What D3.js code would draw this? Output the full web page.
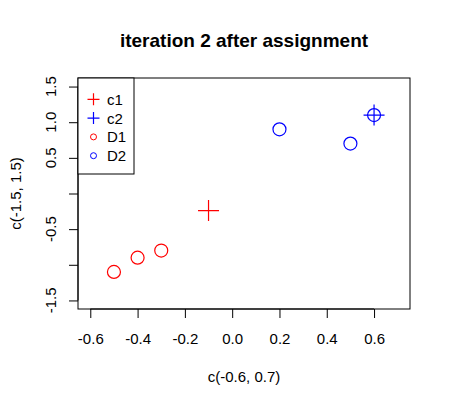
<!DOCTYPE html>
<html>
<head>
<meta charset="utf-8">
<script src="https://cdn.jsdelivr.net/npm/d3@7"></script>
<style>
  body { margin: 0; background: #fff; }
  text { font-family: "Liberation Sans", Arial, sans-serif; }
</style>
</head>
<body>
<svg id="chart" width="451" height="407"></svg>
<script>
// cluster data
const d1x = [-0.5, -0.4, -0.3];
const d1y = [-1.1, -0.9, -0.8];
const d2x = [0.2, 0.5, 0.6];
const d2y = [0.9, 0.7, 1.1];
const c1 = [-0.1, -0.24];
const c2 = [0.6, 1.1];
const xTicks = [-0.6, -0.4, -0.2, 0.0, 0.2, 0.4, 0.6];
const yTicks = [-1.5, -1.0, -0.5, 0.0, 0.5, 1.0, 1.5];
const yLabelTicks = [-1.5, -0.5, 0.5, 1.0, 1.5]; // R drops the overlapping ones
const legendNames = ["c1", "c2", "D1", "D2"];

const svg = d3.select("#chart");
const pLeft = 78, pRight = 410, pTop = 78, pBottom = 309;
const fmt = d => d.toFixed(1); // plain hyphen minus like R

// R pads the range by 4% on each side
const x = d3.scaleLinear().domain([-0.652, 0.752]).range([pLeft, pRight]);
const y = d3.scaleLinear().domain([-1.62, 1.62]).range([pBottom, pTop]);

const xAxis = svg.append("g")
    .attr("transform", `translate(0,${pBottom})`)
    .call(d3.axisBottom(x).tickValues(xTicks).tickSize(9).tickPadding(15)
        .tickFormat(fmt));
xAxis.select(".domain").attr("d", `M${x(-0.6)},0H${x(0.6)}`);
xAxis.selectAll("text").attr("font-size", 15).attr("fill", "#000")
    .style("font-family", "'Liberation Sans', Arial, sans-serif");

const yAxis = svg.append("g")
    .attr("transform", `translate(${pLeft},0)`)
    .call(d3.axisLeft(y).tickValues(yTicks).tickSize(9).tickFormat(""));
yAxis.select(".domain").attr("d", `M0,${y(-1.5)}V${y(1.5)}`);

svg.append("g").selectAll("text")
    .data(yLabelTicks)
    .join("text")
    .attr("transform", d => `translate(56,${y(d)}) rotate(-90)`)
    .attr("text-anchor", "middle")
    .attr("font-size", 15)
    .text(fmt);

// plot box
svg.append("rect")
    .attr("x", pLeft).attr("y", pTop)
    .attr("width", pRight - pLeft).attr("height", pBottom - pTop)
    .attr("fill", "none").attr("stroke", "#000");

svg.append("text")
    .attr("x", 244).attr("y", 47)
    .attr("text-anchor", "middle")
    .attr("font-size", 19).attr("font-weight", "bold")
    .text("iteration 2 after assignment");

svg.append("text")
    .attr("x", 244).attr("y", 382)
    .attr("text-anchor", "middle")
    .attr("font-size", 15)
    .text("c(-0.6, 0.7)");

svg.append("text")
    .attr("transform", `translate(21,${y(0)}) rotate(-90)`)
    .attr("text-anchor", "middle")
    .attr("font-size", 15)
    .text("c(-1.5, 1.5)");

function plus(g, cx, cy, h, color) {
    g.append("path")
        .attr("d", `M${cx - h},${cy}H${cx + h}M${cx},${cy - h}V${cy + h}`)
        .attr("stroke", color).attr("stroke-width", 1.2).attr("fill", "none");
}

const pts = svg.append("g");
const d1 = d1x.map((v, i) => [v, d1y[i]]);
const d2 = d2x.map((v, i) => [v, d2y[i]]);

pts.selectAll(".d1").data(d1).join("circle")
    .attr("cx", d => x(d[0])).attr("cy", d => y(d[1])).attr("r", 6.5)
    .attr("fill", "none").attr("stroke", "red").attr("stroke-width", 1.2);
pts.selectAll(".d2").data(d2).join("circle")
    .attr("cx", d => x(d[0])).attr("cy", d => y(d[1])).attr("r", 6.5)
    .attr("fill", "none").attr("stroke", "blue").attr("stroke-width", 1.2);

plus(pts, x(c1[0]), y(c1[1]), 10.5, "red");
plus(pts, x(c2[0]), y(c2[1]), 10.5, "blue");

// legend
const lg = svg.append("g");
lg.append("rect")
    .attr("x", pLeft).attr("y", pTop)
    .attr("width", 134 - pLeft).attr("height", 174 - pTop)
    .attr("fill", "#fff").attr("stroke", "#000");
const legendColors = ["red", "blue", "red", "blue"];
legendNames.forEach((name, i) => {
    const ly = 99.3 + i * 18.8;
    if (i < 2) plus(lg, 93.5, ly, 6, legendColors[i]);
    else lg.append("circle").attr("cx", 93.5).attr("cy", ly).attr("r", 3)
        .attr("fill", "none").attr("stroke", legendColors[i]).attr("stroke-width", 1);
    lg.append("text")
        .attr("x", 107).attr("y", ly + 5.5)
        .attr("font-size", 15)
        .text(name);
});
</script>
</body>
</html>
